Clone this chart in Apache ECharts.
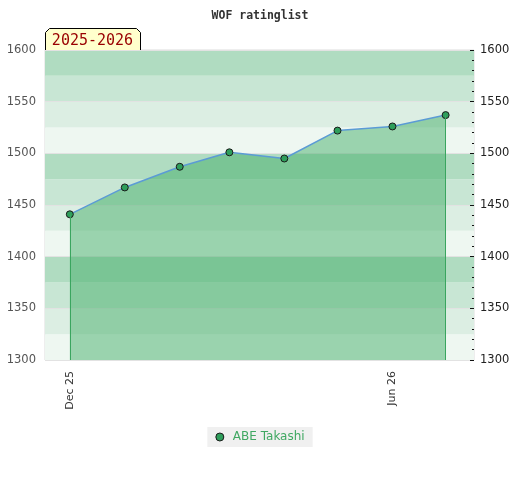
<!DOCTYPE html>
<html>
<head>
<meta charset="utf-8">
<script src="https://cdn.jsdelivr.net/npm/echarts@6/dist/echarts.min.js"></script>
<style>
  html, body { margin: 0; padding: 0; background: #ffffff; }
  #chart { width: 520px; height: 480px; }
</style>
</head>
<body>
<div id="chart"></div>
<script>
// ---- data ----
const dates = ['2025-12-01', '2026-01-01', '2026-02-01', '2026-03-01', '2026-04-01', '2026-05-01', '2026-06-01', '2026-07-01'];
const ratings = [1441, 1467, 1487, 1501, 1495, 1522, 1526, 1537];
const seriesName = 'ABE Takashi';
const tickDates = ['2025-12-01', '2026-06-01'];
const tickLabels = ['Dec 25', 'Jun 26'];
const yTicks = [1300, 1350, 1400, 1450, 1500, 1550, 1600];
const seasonLabel = '2025-2026';
const chartTitle = 'WOF ratinglist';

const yMin = yTicks[0], yMax = yTicks[yTicks.length - 1];
const ts = d => new Date(d + 'T00:00:00Z').getTime();
const tickTs = tickDates.map(ts);
const points = dates.map((d, i) => [ts(d), ratings[i]]);
const first = points[0], last = points[points.length - 1];

const chart = echarts.init(document.getElementById('chart'), null, { renderer: 'canvas' });

const option = {
  animation: false,
  backgroundColor: '#ffffff',
  title: {
    text: chartTitle,
    left: 'center',
    top: 5,
    textStyle: { fontFamily: 'DejaVu Sans Mono', fontWeight: 'bold', fontSize: 11.5, color: '#333' }
  },
  legend: {
    bottom: 33,
    left: 'center',
    icon: 'circle',
    itemWidth: 8,
    itemHeight: 8,
    itemGap: 6,
    backgroundColor: '#f0f0f0',
    padding: [4, 8, 4, 8],
    textStyle: { fontFamily: 'DejaVu Sans', fontSize: 12, color: '#40a862', padding: [0, 0, 0, 4] },
    data: [{ name: seriesName, itemStyle: { color: '#2e9e5b', borderColor: '#1a1a1a', borderWidth: 1 } }]
  },
  grid: {
    left: 45, right: 46, top: 50, bottom: 120,
    show: true, borderColor: '#dddddd', borderWidth: 1
  },
  xAxis: {
    type: 'value',
    min: ts('2025-11-17'),
    max: ts('2026-07-17'),
    axisLine: { show: false },
    axisTick: { show: false },
    splitLine: { show: false },
    axisLabel: {
      customValues: tickTs,
      rotate: 90,
      margin: 11,
      fontFamily: 'DejaVu Sans',
      fontSize: 11,
      color: '#333',
      formatter: v => { const i = tickTs.indexOf(v); return i >= 0 ? tickLabels[i] : ''; }
    }
  },
  yAxis: [
    {
      type: 'value',
      min: yMin, max: yMax, interval: 25,
      position: 'left',
      axisLine: { show: false },
      axisTick: { show: false },
      axisLabel: {
        fontFamily: 'DejaVu Sans', fontSize: 11.5, color: '#555', margin: 9,
        formatter: v => (yTicks.indexOf(v) >= 0 ? String(v) : '')
      },
      splitLine: { show: true, lineStyle: { color: ['#e2e2e2', 'rgba(0,0,0,0)'], width: 1 } },
      splitArea: { show: true, areaStyle: { color: ['#eef7f1', '#dceee3', '#c8e6d4', '#b0dcc1'] } }
    },
    {
      type: 'value',
      min: yMin, max: yMax, interval: 50,
      position: 'right',
      axisLine: { show: false },
      axisTick: { show: true, inside: true, length: 4, lineStyle: { color: '#111' } },
      minorTick: { show: true, splitNumber: 5, length: 2, lineStyle: { color: '#111' } },
      axisLabel: {
        fontFamily: 'DejaVu Sans', fontSize: 11.5, color: '#222', margin: 6,
        formatter: v => String(v)
      },
      splitLine: { show: false },
      splitArea: { show: false }
    }
  ],
  graphic: [
    {
      type: 'group',
      left: 45,
      top: 28,
      children: [
        {
          type: 'polygon',
          shape: { points: [[0, 4], [4, 0], [91, 0], [95, 4], [95, 23], [0, 23]] },
          style: { fill: '#ffffcc', stroke: '#000', lineWidth: 1 }
        },
        {
          type: 'text',
          x: 47, y: 13,
          style: {
            text: seasonLabel, fill: '#990000',
            font: '15px "DejaVu Sans Mono"',
            align: 'center', verticalAlign: 'middle'
          }
        }
      ]
    }
  ],
  series: [
    {
      name: seriesName,
      type: 'line',
      yAxisIndex: 0,
      data: points,
      symbol: 'circle',
      symbolSize: 7,
      z: 3,
      lineStyle: { color: '#5b9bd5', width: 1.5 },
      itemStyle: { color: '#2e9e5b', borderColor: '#1a1a1a', borderWidth: 1 },
      areaStyle: { color: 'rgb(63,172,101)', opacity: 0.48, origin: 'start' },
      markLine: {
        silent: true,
        symbol: 'none',
        label: { show: false },
        lineStyle: { color: '#3aa55f', width: 1, type: 'solid' },
        data: [
          [{ coord: [first[0], first[1]] }, { coord: [first[0], yMin] }],
          [{ coord: [last[0], last[1]] }, { coord: [last[0], yMin] }]
        ]
      }
    }
  ]
};

chart.setOption(option);
</script>
</body>
</html>
